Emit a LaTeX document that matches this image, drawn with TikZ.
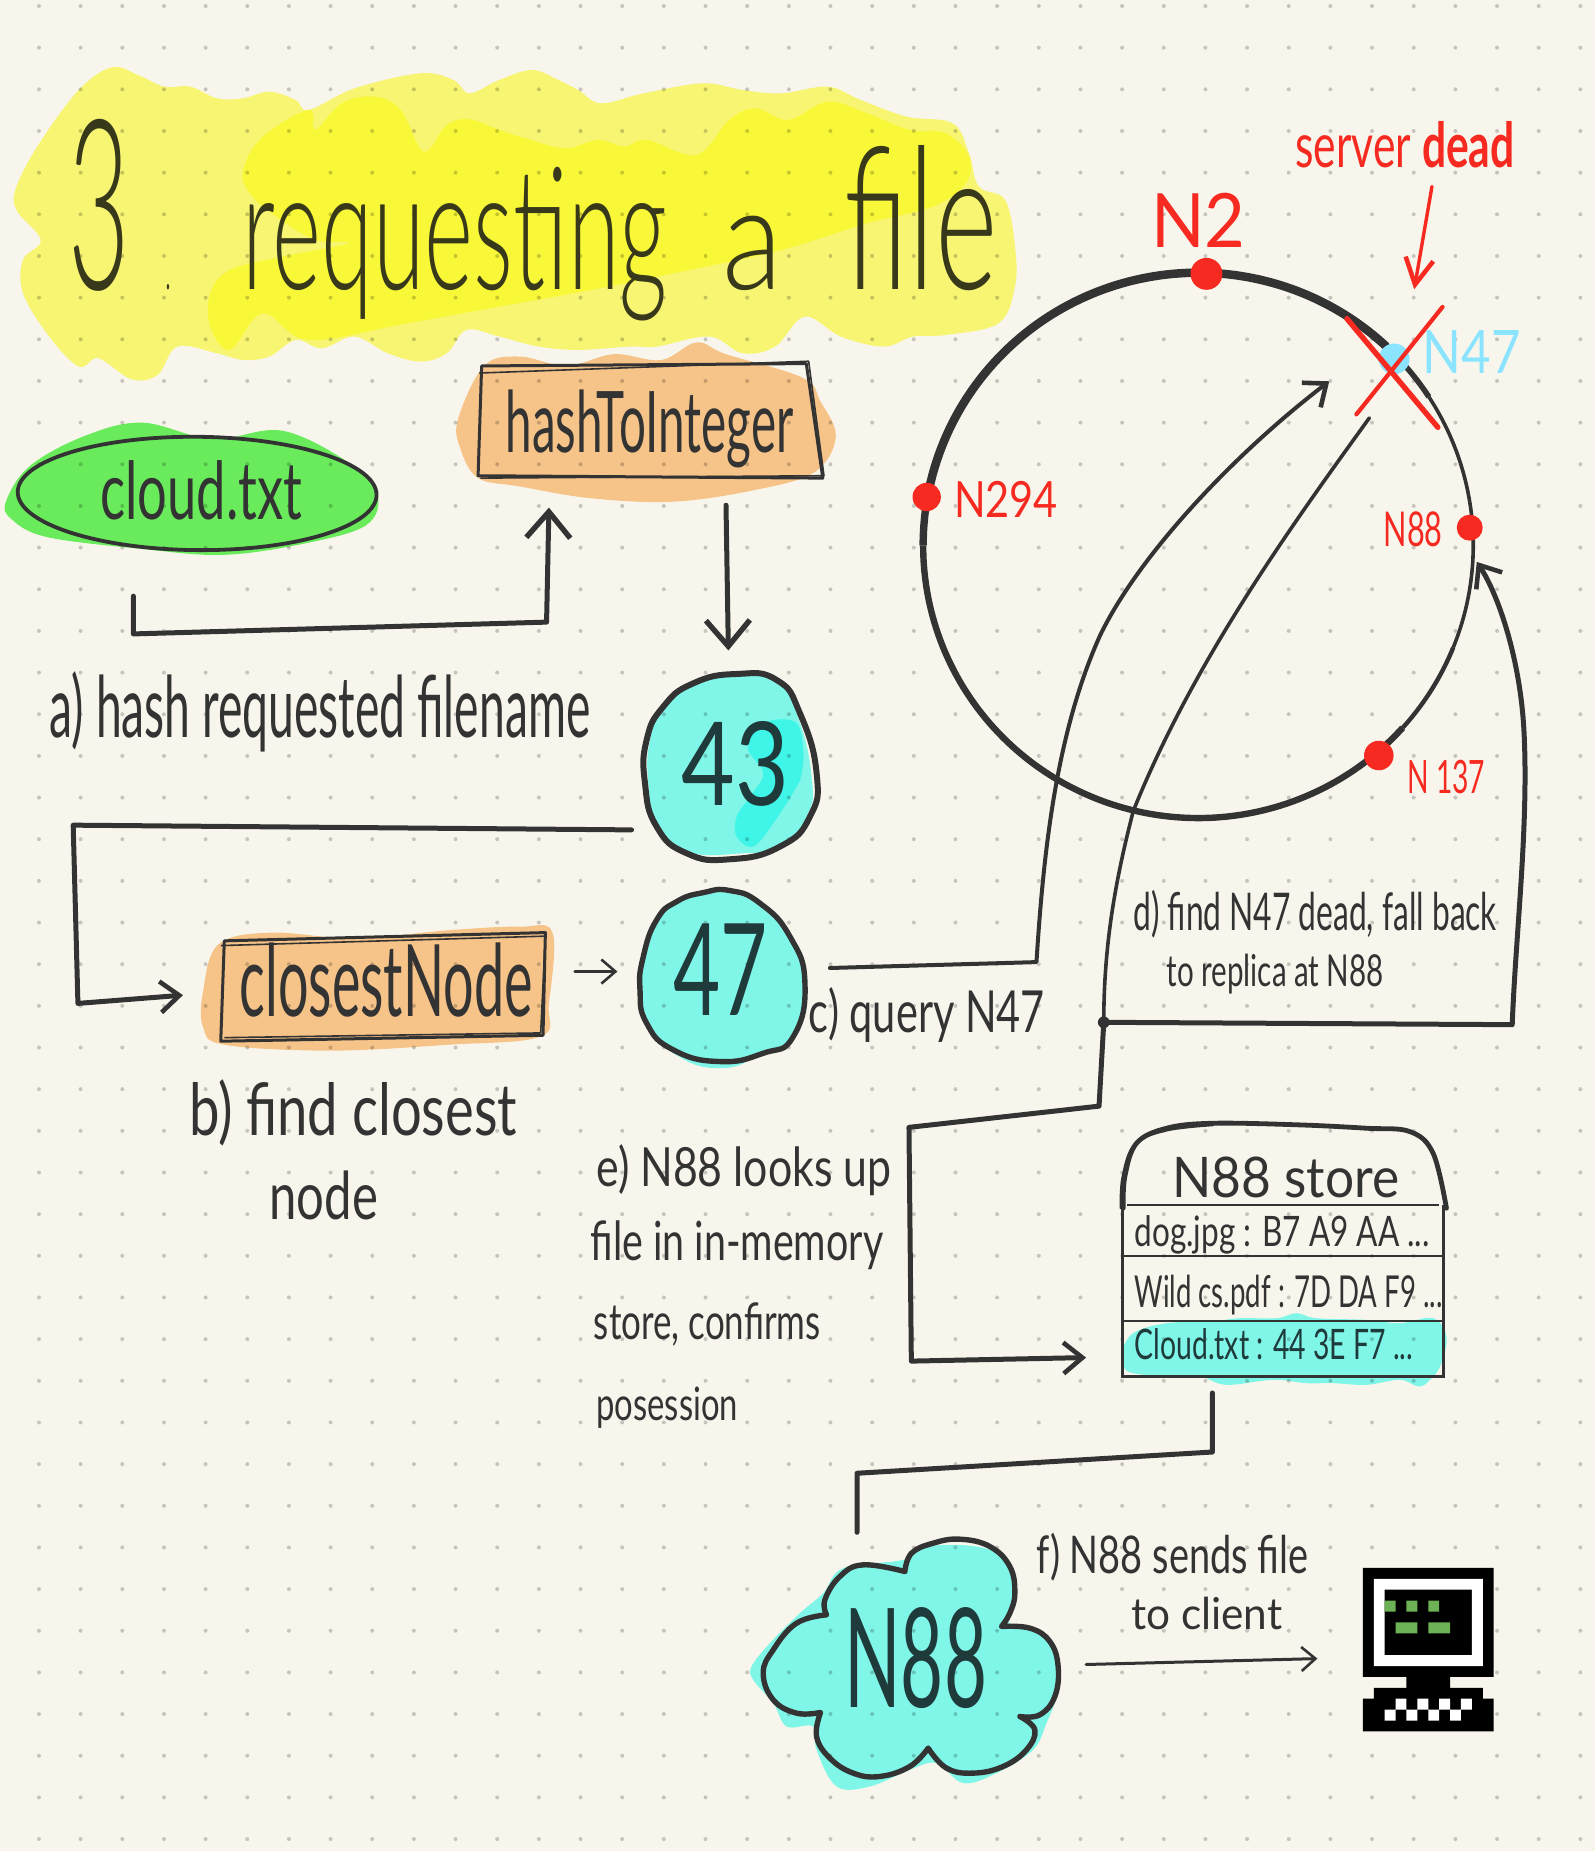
\documentclass[tikz,border=0pt]{standalone}
\usepackage{fontspec}
\usepackage{graphicx}
\setmainfont{Lato}
\newfontfamily\lightf{Lato Light}
\usetikzlibrary{arrows.meta,shapes.geometric}
\definecolor{paper}{HTML}{F8F6EC}
\definecolor{ink}{HTML}{333333}
\definecolor{titleink}{HTML}{38381A}
\definecolor{tealink}{HTML}{1F3A3A}
\definecolor{redpen}{HTML}{F62A20}
\definecolor{skypen}{HTML}{8BE4FF}
\definecolor{yelA}{HTML}{F7F572}
\definecolor{yelB}{HTML}{F9F838}
\definecolor{orangeA}{HTML}{F6C489}
\definecolor{greenA}{HTML}{69EB5C}
\definecolor{cyanA}{HTML}{80F6E8}
\definecolor{cyanB}{HTML}{3FF5E8}
\definecolor{pcgreen}{HTML}{6DB356}
\newlength{\dispu}\setlength{\dispu}{1.1806pt}
\newcommand\hw[7][ink]{\node[inner sep=0pt,anchor=base west,text=#1] (#2) at (#3,#4) {\fontsize{#6}{#6}\selectfont\resizebox{#5\dispu}{\height}{#7}};}
\newcommand\tpart[3]{{\fontsize{#2}{#2}\selectfont\resizebox{#1\dispu}{\height}{#3}}}
\tikzset{
  conn/.style={draw=ink,line width=5pt,line cap=round,line join=round},
  thinconn/.style={draw=ink,line width=3pt,line cap=round,line join=round},
  bigtip/.style={-{Straight Barb[length=26pt,width=44pt,line width=5.4pt]}},
  midtip/.style={-{Straight Barb[length=19pt,width=31pt,line width=4.6pt]}},
  smalltip/.style={-{Straight Barb[length=14pt,width=24pt,line width=2.6pt]}},
  reddot/.style={circle,fill=redpen,inner sep=0pt},
  handbox/.style={draw=ink,line width=3pt,line join=round},
  rowline/.style={draw=ink,line width=2.2pt},
  blobA/.style={smooth cycle,tension=.6},
  blobB/.style={smooth cycle,tension=.85},
}
\begin{document}
\begin{tikzpicture}[x=1.1806pt,y=-1.1806pt]
\useasboundingbox (0,0) rectangle (1351,1568);
\fill[paper] (0,0) rectangle (1351,1568);

% ---- highlights
\begin{scope}[shift={(0,50.8)},xscale=.5565,yscale=.2823]
\fill[yelA] plot[blobA] coordinates {(170,22)(210,45)(250,80)(290,80)(330,115)(370,115)(410,95)(450,120)(470,150)(540,85)(640,40)(690,60)(715,100)(760,60)(810,30)(850,60)(880,90)(915,130)(980,100)(1070,70)(1130,90)(1190,100)(1260,80)(1310,120)(1380,170)(1450,190)(1475,280)(1490,380)(1530,420)(1545,560)(1545,680)(1520,790)(1440,825)(1390,830)(1345,860)(1280,830)(1225,770)(1180,860)(1130,880)(1080,830)(1000,860)(960,860)(880,870)(820,860)(760,830)(710,810)(680,880)(640,905)(590,880)(540,830)(490,865)(450,840)(410,890)(370,900)(330,880)(270,860)(240,945)(200,958)(150,895)(120,920)(75,830)(35,700)(35,600)(62,540)(25,450)(25,380)(60,250)(120,90)};
\fill[yelB] plot[blobA] coordinates {(370,330)(400,230)(470,150)(480,210)(520,130)(570,110)(610,150)(645,275)(680,195)(715,178)(760,210)(800,235)(860,265)(910,240)(950,260)(985,240)(1060,285)(1110,180)(1150,145)(1200,180)(1260,125)(1320,160)(1385,210)(1440,220)(1475,290)(1470,370)(1420,440)(1320,490)(1190,570)(1050,630)(900,690)(760,740)(620,790)(470,840)(400,760)(350,870)(320,800)(320,700)(350,630)(430,590)(530,550)(480,540)(420,470)(380,400)};
\end{scope}
\fill[orangeA] plot[blobA] coordinates {(388,355)(410,310)(440,302)(480,310)(520,300)(560,305)(590,290)(615,300)(680,320)(695,340)(708,370)(690,400)(640,415)(570,425)(500,422)(440,412)(405,405)(390,380)};
\fill[greenA] plot[blobA] coordinates {(5,425)(25,395)(70,370)(120,358)(180,372)(240,365)(300,395)(320,420)(310,445)(260,460)(190,470)(120,465)(40,455)(10,440)};
\fill[orangeA] plot[blobA] coordinates {(172,840)(185,800)(230,790)(300,795)(380,788)(440,785)(468,790)(465,850)(458,878)(380,885)(280,890)(190,885)(172,870)};
% 43 and 47 fills
\begin{scope}[shift={(525.2,550.6)},scale=.2823]
\fill[cyanA] plot[blobB] coordinates {(350,75)(470,100)(530,190)(575,380)(560,500)(480,590)(370,610)(200,605)(110,530)(85,400)(90,270)(130,170)(220,100)};
\fill[cyanB] plot[blobA] coordinates {(385,300)(400,240)(460,210)(530,220)(550,300)(545,370)(530,410)(460,520)(400,590)(350,560)(350,500)(390,440)(430,370)};
\fill[cyanA] plot[blobB] coordinates {(250,735)(330,730)(420,770)(510,870)(560,1000)(520,1160)(430,1210)(300,1255)(160,1210)(80,1120)(65,1020)(75,920)(115,815)(170,760)};
\end{scope}
% N88 cloud fill
\begin{scope}[shift={(618.3,1279)},scale=.2823]
\fill[cyanA] plot[blobA] coordinates {(65,470)(120,400)(210,310)(280,250)(340,175)(520,150)(590,110)(740,110)(830,150)(860,250)(830,330)(900,360)(960,400)(990,470)(980,560)(950,640)(910,720)(800,790)(700,820)(620,760)(540,780)(420,830)(320,830)(260,720)(250,650)(170,650)(130,580)(70,510)};
\end{scope}
% store highlight
\begin{scope}[shift={(931.7,940.2)},scale=.2823]
\fill[cyanA] plot[blobA] coordinates {(65,730)(100,670)(200,640)(330,635)(420,625)(530,625)(590,610)(650,625)(800,630)(900,640)(1000,625)(1040,680)(1025,760)(1000,800)(960,830)(900,810)(800,825)(700,820)(620,820)(520,810)(380,825)(300,800)(200,800)(100,790)(70,770)};
\end{scope}

% ---- dot grid
\foreach \i in {0,...,37}{\foreach \j in {0,...,44}{
  \fill[black,opacity=.2] ({33+35.29*\i},{5.1+35.29*\j}) circle[radius=1.7];
}}

% ---- title
\node[inner sep=0pt,anchor=base west,text=titleink,font=\lightf] (title) at (58,245) {\tpart{52}{238}{3}\hspace{30\dispu}\tpart{5}{60}{.}\hspace{60\dispu}\tpart{360}{170}{requesting}\hspace{47\dispu}\tpart{51}{145}{a}\hspace{52\dispu}\tpart{130}{198}{file}};

% ---- cloud.txt oval and hashToInteger box
\node[draw=ink,line width=3.8pt,ellipse,minimum width=304\dispu,minimum height=96\dispu,inner sep=0pt,rotate=-.5] (oval) at (167,418) {};
\hw{cloudtxt}{85}{440}{171}{80}{cloud.txt}
\draw[handbox] (408,310) -- (683,308) -- (697,405) -- (405,403) -- cycle;
\draw[handbox,line width=1.6pt] (406,316) -- (685,306) -- (698,403) -- (407,405);
\hw{hashnode}{428}{383}{244}{85}{hashToInteger}

\coordinate (aStart) at (113,505);
\coordinate (aEnd) at (465,430);
\draw[conn,bigtip] (aStart) -- (113,537) -- (463,527) -- (aEnd);
\hw{labela}{42}{625}{458}{85}{a) hash requested filename}

\coordinate (hashOut) at (615,428);
\coordinate (fortythreeIn) at (617,551);
\draw[conn,bigtip] (hashOut) -- (fortythreeIn);

% ---- 43 and 47
\begin{scope}[shift={(525.2,550.6)},scale=.2823]
\draw[conn,line width=6pt] plot[blobB] coordinates {(350,72)(470,90)(540,190)(590,370)(570,500)(480,590)(330,628)(200,610)(110,530)(75,400)(80,270)(130,170)(220,100)};
\draw[conn,line width=5.4pt] plot[blobB] coordinates {(250,728)(330,722)(420,760)(510,860)(555,1000)(520,1160)(430,1210)(300,1235)(160,1200)(80,1120)(60,1020)(70,920)(110,810)(170,755)};
\end{scope}
\hw[tealink]{num43}{577}{682}{91}{116}{43}
\hw[tealink]{num47}{570}{860}{80}{128}{47}

\coordinate (bStart) at (535,703);
\coordinate (bEnd) at (155,843);
\draw[conn,midtip] (bStart) -- (62,699) -- (66,850) -- (bEnd);

% ---- closestNode
\draw[handbox] (190,797) -- (462,790) -- (460,877) -- (187,882) -- cycle;
\draw[handbox,line width=1.6pt] (187,801) -- (462,793) -- (458,875) -- (190,879);
\hw{closest}{203}{861}{248}{100}{closestNode}
\coordinate (closeOut) at (487,823);
\coordinate (fortysevenIn) at (523,823);
\draw[thinconn,smalltip] (closeOut) -- (fortysevenIn);
\hw{labelb}{160}{962}{278}{72}{b) find closest}
\hw{labelbb}{228}{1033}{92}{66}{node}
\hw{labelc}{685}{875}{200}{58}{c) query N47}

% ---- ring
\def\ringp#1#2{plot[domain=#1:#2,samples=50,smooth] ({1015+233*cos(\x)},{462-231*sin(\x)})}
\draw[ink,line width=8.5pt,line cap=round] \ringp{170}{47};
\draw[ink,line width=5.5pt] \ringp{48}{33};
\draw[ink,line width=3.6pt] \ringp{33}{-22};
\draw[ink,line width=4.4pt] \ringp{-22}{-42};
\draw[ink,line width=6.4pt] \ringp{-42}{-180};
\draw[ink,line width=7.4pt] \ringp{-180}{-190};

% ---- connectors through the ring
\coordinate (queryStart) at (703,820);
\coordinate (queryEnd) at (1126,323);
\draw[thinconn,line width=4pt,midtip] (queryStart) -- (878,815) .. controls (884,720) and (895,620) .. (932,538) .. controls (965,470) and (1045,385) .. (queryEnd);

\coordinate (deadStart) at (1160,354);
\coordinate (junction) at (935,866);
\draw[thinconn,line width=3.6pt] (deadStart) .. controls (1095,444) and (1011,560) .. (960,687) .. controls (945,745) and (935,800) .. (junction);
\fill[ink] (junction) circle[radius=5];
\coordinate (replicaEnd) at (1251,476);
\draw[conn,midtip] (junction) -- (1281,868) .. controls (1284,790) and (1295,700) .. (1291,620) .. controls (1288,560) and (1270,505) .. (replicaEnd);

\coordinate (storeIn) at (920,1150);
\draw[conn,midtip] (junction) -- (931,937) -- (770,955) -- (772,1153) -- (storeIn);

% ---- ring nodes
\node[reddot,minimum size=27\dispu] (n2) at (1022,232) {};
\node[circle,fill=skypen,inner sep=0pt,minimum size=26\dispu] (n47) at (1181,304) {};
\node[reddot,minimum size=22\dispu] (n88) at (1245,447) {};
\node[reddot,minimum size=25\dispu] (n137) at (1168,640) {};
\node[reddot,minimum size=24\dispu] (n294) at (785,421) {};
\draw[redpen,line width=5.4pt,line cap=round] (1141,270) -- (1218,362);
\draw[redpen,line width=4.2pt,line cap=round] (1222,260) -- (1149,351);
\coordinate (deadFrom) at (1213,158);
\coordinate (deadTo) at (1198,245);
\draw[redpen,line width=3.4pt,line cap=round,-{Straight Barb[length=26pt,width=28pt,line width=4.5pt]}] (deadFrom) -- (deadTo);

\hw[redpen]{labeln2}{975}{210}{80}{75}{N2}
\hw[redpen]{labeldead}{1097}{142}{186}{62}{server \textbf{dead}}
\hw[skypen]{labeln47}{1205}{316}{83}{60}{N47}
\hw[redpen]{labeln88}{1172}{463}{50}{48}{N88}
\hw[redpen]{labeln294}{808}{438}{88}{50}{N294}
\hw[redpen]{labeln137}{1192}{672}{66}{46}{N 137}

\hw{labeld}{960}{788}{308}{52}{d) find N47 dead, fall back}
\hw{labeldd}{988}{836}{184}{44}{to replica at N88}

\hw{labele}{505}{1005}{250}{54}{e) N88 looks up}
\hw{labelee}{500}{1068}{248}{54}{file in in-memory}
\hw{labeleee}{503}{1135}{192}{50}{store, confirms}
\hw{labeleeee}{505}{1203}{120}{46}{posession}

% ---- store
\begin{scope}[shift={(931.7,940.2)},scale=.2823]
\draw[conn,line width=4.8pt] plot[smooth,tension=.6] coordinates {(70,295)(75,200)(110,100)(200,55)(340,40)(600,45)(800,55)(930,65)(1000,130)(1040,295)};
\draw[conn,line width=2pt] plot[smooth,tension=.6] coordinates {(62,295)(68,200)(104,104)(200,62)(340,46)};
\end{scope}
\draw[rowline] (955,1021) -- (1219,1021);
\draw[rowline] (951,1064) -- (1223,1064);
\draw[rowline] (951,1119) -- (1223,1119);
\draw[rowline] (951,1166) -- (1223,1166);
\draw[rowline,line width=2.8pt] (951,1021) -- (951,1167);
\draw[rowline,line width=2.8pt] (1223,1021) -- (1223,1167);
\hw{storehead}{993}{1014}{192}{56}{N88 store}
\hw{rowone}{961}{1056}{250}{42}{dog.jpg : B7 A9 AA ...}
\hw{rowtwo}{961}{1108}{261}{44}{Wild cs.pdf : 7D DA F9 ...}
\hw[tealink]{rowthree}{961}{1152}{236}{42}{Cloud.txt : 44 3E F7 ...}

\coordinate (storeOut) at (1027,1180);
\coordinate (cloudIn) at (726,1298);
\draw[conn] (storeOut) -- (1027,1230) -- (726,1248) -- (cloudIn);

% ---- N88 cloud
\begin{scope}[shift={(618.3,1279)},scale=.2823]
\draw[conn,line width=5.4pt] plot[smooth,tension=.7] coordinates {(525,185)(545,130)(610,100)(690,88)(780,110)(840,170)(855,250)(840,310)(815,350)}
 -- plot[smooth,tension=.7] coordinates {(815,350)(900,355)(960,395)(985,470)(975,560)(930,615)(870,620)}
 -- plot[smooth,tension=.7] coordinates {(870,620)(915,660)(890,720)(820,770)(730,790)(650,775)(595,715)}
 -- plot[smooth,tension=.7] coordinates {(595,715)(540,770)(450,800)(370,790)(300,745)(260,680)(272,608)}
 -- plot[smooth,tension=.7] coordinates {(272,608)(200,610)(130,570)(100,490)(130,420)(200,340)(290,315)}
 -- plot[smooth,tension=.7] coordinates {(290,315)(285,270)(330,200)(400,165)(525,185)};
\end{scope}
\hw[tealink]{cloudlabel}{715}{1446}{121}{138}{N88}
\hw{labelf}{878}{1333}{230}{52}{f) N88 sends file}
\hw{labelff}{958}{1380}{128}{44}{to client}
\coordinate (cloudOut) at (920,1410);
\coordinate (pcIn) at (1116,1405);
\draw[thinconn,smalltip] (cloudOut) -- (pcIn);

% ---- computer (12 x 15 pixel icon)
\begin{scope}[shift={(1154.5,1328.2)},scale=9.233]
\fill[black] (0,0) rectangle (12,10) (4,10) rectangle (8,11) (1,11) rectangle (11,12) (0,12) rectangle (12,15);
\fill[white,even odd rule] (1,1) rectangle (11,9) (2,2) rectangle (10,8);
\fill[pcgreen] (2,3) rectangle (3,4) (4,3) rectangle (5,4) (6,3) rectangle (7,4) (3,5) rectangle (5,6) (6,5) rectangle (8,6);
\fill[white] (3,12) rectangle (4,13) (5,12) rectangle (6,13) (7,12) rectangle (8,13) (9,12) rectangle (10,13)
 (2,13) rectangle (3,14) (4,13) rectangle (5,14) (6,13) rectangle (7,14) (8,13) rectangle (9,14);
\end{scope}
\end{tikzpicture}
\end{document}
